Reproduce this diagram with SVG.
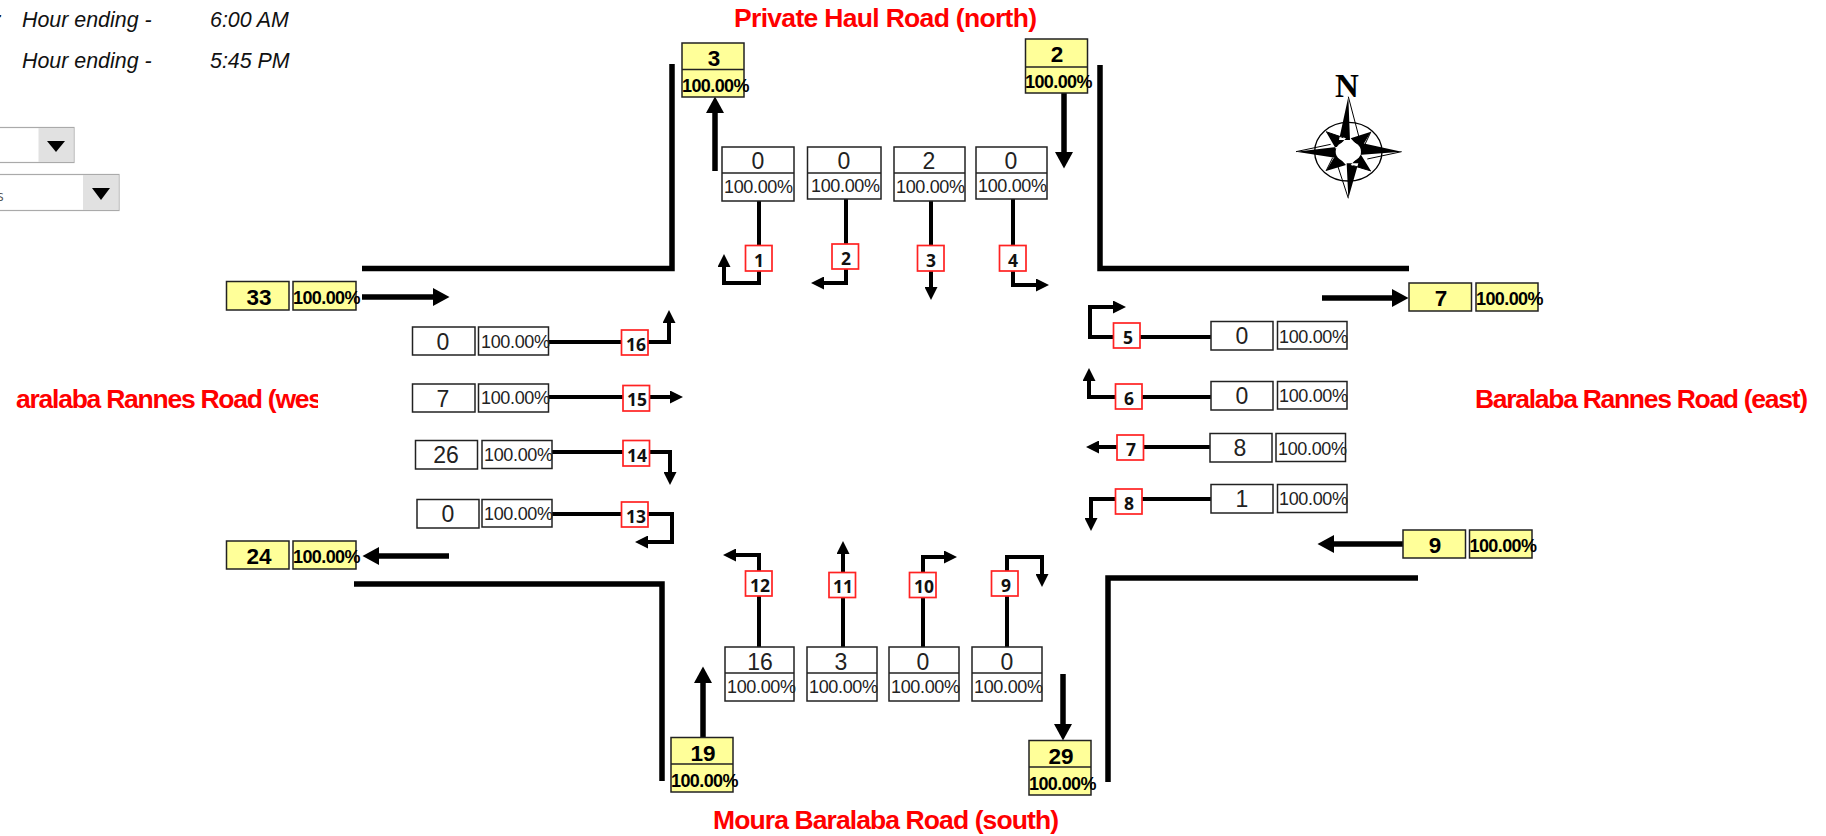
<svg xmlns="http://www.w3.org/2000/svg" width="1826" height="836" viewBox="0 0 1826 836">
<style>
text{font-family:"Liberation Sans",Arial,sans-serif;fill:#000}
.val{font-size:23px;text-anchor:middle;fill:#222}
.pct{font-size:18px;letter-spacing:-.35px;fill:#222}
.yv{font-size:22.500px;font-weight:700;text-anchor:middle}
.yp{font-size:18px;letter-spacing:-.6px;font-weight:700}
.rn{font-family:"Open Sans","Noto Sans",sans-serif;font-size:17.500px;font-weight:700;text-anchor:middle;fill:#111}
.road{font-size:26.500px;font-weight:700;fill:#f00}
.note{font-size:21.400px;font-style:italic;fill:#111}
.box{fill:#fff;stroke:#222;stroke-width:1.5}
.yb{fill:#ffff99;stroke:#222;stroke-width:1.5}
.rb{fill:#fff;stroke:#f22;stroke-width:1.7}
.wall{fill:none;stroke:#000;stroke-width:5.5}
.thick{fill:none;stroke:#000;stroke-width:5.5;marker-end:url(#hb)}
.thin{fill:none;stroke:#000;stroke-width:4;marker-end:url(#hs)}
.btn{fill:#e1e1e1}
.dd{fill:#fff;stroke:#aaa;stroke-width:1.2}
</style>
<defs>
<marker id="hb" markerUnits="userSpaceOnUse" markerWidth="17" markerHeight="18" refX="0" refY="9" orient="auto"><path d="M0 0L16.500 9L0 18Z" fill="#000"/></marker>
<marker id="hs" markerUnits="userSpaceOnUse" markerWidth="13" markerHeight="13" refX="0" refY="6.500" orient="auto"><path d="M0 0L13 6.500L0 13Z" fill="#000"/></marker>
<clipPath id="westclip"><rect x="0" y="370" width="318" height="60"/></clipPath>
</defs>

<g id="notes">
<text class="note" x="-4" y="27">:</text>
<text class="note" x="22" y="27">Hour ending -</text>
<text class="note" x="210" y="27">6:00 AM</text>
<text class="note" x="22" y="68">Hour ending -</text>
<text class="note" x="210" y="68">5:45 PM</text>
</g>
<g id="dropdown-1">
<rect class="dd" x="-4" y="127.500" width="78" height="35"/>
<rect class="btn" x="38.500" y="128" width="35" height="34"/>
<path d="M47 141H65L56 152Z" fill="#000"/>
</g>
<g id="dropdown-2">
<rect class="dd" x="-4" y="174.500" width="123" height="36"/>
<rect class="btn" x="83" y="175" width="35.500" height="35"/>
<path d="M92 188H110L101 200Z" fill="#000"/>
<text x="-3" y="201" style="font-family:'Open Sans',sans-serif;font-size:14px;fill:#555">s</text>
</g>

<g id="road-labels">
<text class="road" x="734" y="27" textLength="303" lengthAdjust="spacing">Private Haul Road (north)</text>
<text class="road" x="1475" y="408" textLength="333" lengthAdjust="spacing">Baralaba Rannes Road (east)</text>
<text class="road" x="713" y="829" textLength="346" lengthAdjust="spacing">Moura Baralaba Road (south)</text>
<g clip-path="url(#westclip)"><text class="road" x="16" y="408" textLength="307" lengthAdjust="spacing">aralaba Rannes Road (wes</text></g>
</g>

<g id="compass">
<text x="1347" y="97" text-anchor="middle" style="font-family:'Liberation Serif',serif;font-weight:700;font-size:33px">N</text>
<g transform="translate(1290 95) scale(.3333)">
<ellipse cx="175" cy="170" rx="101" ry="88" fill="#fff" stroke="#000" stroke-width="4"/>
<path d="M175 5L208 130M335 170L232 192M175 310L143 212M18 170L122 148M108 110L160 128M243 110L224 150M243 228L190 212M108 228L128 188" fill="none" stroke="#000" stroke-width="3"/>
<path d="M175 5L147 135L180 135Z M335 170L205 142L205 180Z M175 310L205 205L170 205Z M18 170L145 190L145 155Z M108 110L168 130L138 162Z M243 110L182 130L212 162Z M243 228L182 210L212 178Z M108 228L168 210L138 178Z" fill="#000"/>
<ellipse cx="175" cy="170" rx="38" ry="31" fill="#fff"/>
</g>
</g>

<g id="walls">
<path class="wall" d="M362 268.500H672V64"/>
<path class="wall" d="M1100 65V268.500H1409"/>
<path class="wall" d="M354 584H662V781"/>
<path class="wall" d="M1108 782V578H1418"/>
</g>

<g id="connectors">
<path class="thick" d="M715 171V113"/>
<path class="thick" d="M1064 93V152"/>
<path class="thick" d="M362 297H433"/>
<path class="thick" d="M449 556H379"/>
<path class="thick" d="M1322 298H1392"/>
<path class="thick" d="M1403 544H1334"/>
<path class="thick" d="M703 737V683"/>
<path class="thick" d="M1063 674V724"/>
<path class="thin" d="M759 201V283H724V267"/>
<path class="thin" d="M846 199V283H824"/>
<path class="thin" d="M931 201V287"/>
<path class="thin" d="M1013 199V285H1036"/>
<path class="thin" d="M1211 337H1090V307H1113"/>
<path class="thin" d="M1211 397H1089V381"/>
<path class="thin" d="M1210 447H1099"/>
<path class="thin" d="M1211 499H1091V518"/>
<path class="thin" d="M759 647V555H736"/>
<path class="thin" d="M843 647V554"/>
<path class="thin" d="M923 647V557H944"/>
<path class="thin" d="M1007 647V557H1042V574"/>
<path class="thin" d="M549 342H669V323"/>
<path class="thin" d="M549 397H670"/>
<path class="thin" d="M552 452H670V472"/>
<path class="thin" d="M552 514H672V542H648"/>
</g>

<g id="exit-north-3"><rect class="yb" x="682" y="43" width="62" height="54"/><path class="yb" d="M682 69.500H744"/><text class="yv" x="714" y="66">3</text><text class="yp" x="682" y="92">100.00%</text></g>
<g id="exit-north-2"><rect class="yb" x="1025.500" y="39" width="62" height="54"/><path class="yb" d="M1025 67H1088"/><text class="yv" x="1057" y="62">2</text><text class="yp" x="1025" y="88">100.00%</text></g>
<g id="exit-west-33"><rect class="yb" x="226.500" y="281.500" width="62.500" height="28.500"/><rect class="yb" x="293" y="281.500" width="63" height="28.500"/><text class="yv" x="259" y="305">33</text><text class="yp" x="293" y="304">100.00%</text></g>
<g id="exit-west-24"><rect class="yb" x="226.500" y="541" width="62.500" height="28"/><rect class="yb" x="293" y="541" width="63" height="28"/><text class="yv" x="259" y="564">24</text><text class="yp" x="293" y="563">100.00%</text></g>
<g id="exit-east-7"><rect class="yb" x="1409" y="283" width="62.500" height="28"/><rect class="yb" x="1476" y="283" width="62" height="28"/><text class="yv" x="1441" y="306">7</text><text class="yp" x="1476" y="305">100.00%</text></g>
<g id="exit-east-9"><rect class="yb" x="1403" y="530" width="62.500" height="28"/><rect class="yb" x="1469.500" y="530" width="62.500" height="28"/><text class="yv" x="1435" y="553">9</text><text class="yp" x="1469.500" y="552">100.00%</text></g>
<g id="exit-south-19"><rect class="yb" x="671" y="737.500" width="62" height="54.500"/><path class="yb" d="M671 764H733"/><text class="yv" x="703" y="761">19</text><text class="yp" x="671" y="787">100.00%</text></g>
<g id="exit-south-29"><rect class="yb" x="1029" y="740.500" width="62" height="54.500"/><path class="yb" d="M1029 767H1091"/><text class="yv" x="1061" y="764">29</text><text class="yp" x="1029" y="790">100.00%</text></g>

<g id="count-1"><rect class="box" x="722" y="147" width="72" height="54"/><path class="box" d="M722 173H794"/><text class="val" x="758" y="169">0</text><text class="pct" x="724" y="193">100.00%</text><rect class="rb" x="745.500" y="245.500" width="26.500" height="25.500"/><text class="rn" x="759" y="267">1</text></g>
<g id="count-2"><rect class="box" x="807.500" y="147" width="73.500" height="52"/><path class="box" d="M807 173H881"/><text class="val" x="844" y="169">0</text><text class="pct" x="811" y="192">100.00%</text><rect class="rb" x="832" y="244" width="26.500" height="25"/><text class="rn" x="846" y="265">2</text></g>
<g id="count-3"><rect class="box" x="894" y="147" width="71" height="54"/><path class="box" d="M894 173H965"/><text class="val" x="929" y="169">2</text><text class="pct" x="896" y="193">100.00%</text><rect class="rb" x="917.500" y="245.500" width="26.500" height="25.500"/><text class="rn" x="931" y="267">3</text></g>
<g id="count-4"><rect class="box" x="976" y="147" width="71" height="52"/><path class="box" d="M976 173H1047"/><text class="val" x="1011" y="169">0</text><text class="pct" x="978" y="192">100.00%</text><rect class="rb" x="999.500" y="245.500" width="26.500" height="25.500"/><text class="rn" x="1013" y="267">4</text></g>

<g id="count-5"><rect class="box" x="1211" y="321.500" width="62" height="28.500"/><rect class="box" x="1277.500" y="321.500" width="69.500" height="27.500"/><text class="val" x="1242" y="344">0</text><text class="pct" x="1279" y="343">100.00%</text><rect class="rb" x="1113.500" y="323" width="26.500" height="25"/><text class="rn" x="1128" y="344">5</text></g>
<g id="count-6"><rect class="box" x="1211" y="381.500" width="62" height="28.500"/><rect class="box" x="1277.500" y="381.500" width="69.500" height="27.500"/><text class="val" x="1242" y="404">0</text><text class="pct" x="1279" y="402">100.00%</text><rect class="rb" x="1115.500" y="384" width="26.500" height="25"/><text class="rn" x="1129" y="405">6</text></g>
<g id="count-7"><rect class="box" x="1210" y="433.500" width="62" height="28.500"/><rect class="box" x="1276" y="433.500" width="69.500" height="28"/><text class="val" x="1240" y="456">8</text><text class="pct" x="1278" y="455">100.00%</text><rect class="rb" x="1117" y="435" width="26.500" height="25"/><text class="rn" x="1131" y="456">7</text></g>
<g id="count-8"><rect class="box" x="1211" y="484.500" width="62" height="28.500"/><rect class="box" x="1277.500" y="484.500" width="69.500" height="28"/><text class="val" x="1242" y="507">1</text><text class="pct" x="1279" y="505">100.00%</text><rect class="rb" x="1115.500" y="489" width="26.500" height="25"/><text class="rn" x="1129" y="510">8</text></g>

<g id="count-9"><rect class="box" x="972" y="647" width="70" height="54"/><path class="box" d="M972 673H1042"/><text class="val" x="1007" y="670">0</text><text class="pct" x="974" y="693">100.00%</text><rect class="rb" x="991.500" y="571" width="26.500" height="25"/><text class="rn" x="1006" y="592">9</text></g>
<g id="count-10"><rect class="box" x="889" y="647" width="70" height="54"/><path class="box" d="M889 673H959"/><text class="val" x="923" y="670">0</text><text class="pct" x="891" y="693">100.00%</text><rect class="rb" x="909.500" y="572.500" width="26.500" height="25"/><text class="rn" x="924" y="593">10</text></g>
<g id="count-11"><rect class="box" x="807" y="647" width="70" height="54"/><path class="box" d="M807 673H877"/><text class="val" x="841" y="670">3</text><text class="pct" x="809" y="693">100.00%</text><rect class="rb" x="829" y="572.500" width="26.500" height="25"/><text class="rn" x="843" y="593">11</text></g>
<g id="count-12"><rect class="box" x="725" y="647" width="69" height="54"/><path class="box" d="M725 673H794"/><text class="val" x="760" y="670">16</text><text class="pct" x="727" y="693">100.00%</text><rect class="rb" x="745.500" y="571" width="26.500" height="25"/><text class="rn" x="760" y="592">12</text></g>

<g id="count-13"><rect class="box" x="417" y="499.500" width="62" height="28.500"/><rect class="box" x="482" y="499.500" width="70" height="27.500"/><text class="val" x="448" y="522">0</text><text class="pct" x="484" y="520">100.00%</text><rect class="rb" x="621.500" y="502" width="26.500" height="25"/><text class="rn" x="636" y="523">13</text></g>
<g id="count-14"><rect class="box" x="415.500" y="440.500" width="62" height="28.500"/><rect class="box" x="482" y="440.500" width="70" height="28"/><text class="val" x="446" y="463">26</text><text class="pct" x="484" y="461">100.00%</text><rect class="rb" x="623" y="440.500" width="26.500" height="25.500"/><text class="rn" x="637" y="462">14</text></g>
<g id="count-15"><rect class="box" x="412.500" y="384" width="62.500" height="28"/><rect class="box" x="478.500" y="384" width="70" height="28"/><text class="val" x="443" y="407">7</text><text class="pct" x="481" y="404">100.00%</text><rect class="rb" x="623" y="385.500" width="26.500" height="25.500"/><text class="rn" x="637" y="406">15</text></g>
<g id="count-16"><rect class="box" x="412.500" y="327" width="62.500" height="28"/><rect class="box" x="478.500" y="327" width="70" height="28"/><text class="val" x="443" y="350">0</text><text class="pct" x="481" y="348">100.00%</text><rect class="rb" x="621.500" y="330" width="26.500" height="25"/><text class="rn" x="636" y="351">16</text></g>
</svg>
